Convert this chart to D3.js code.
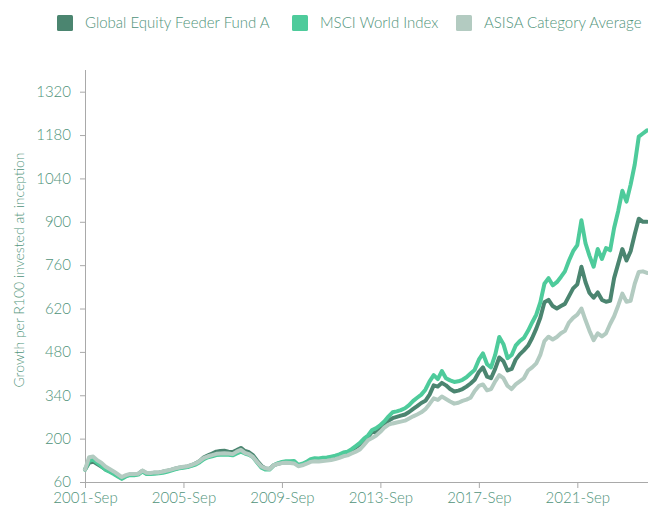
<!DOCTYPE html>
<html>
<head>
<meta charset="utf-8">
<script src="https://cdn.jsdelivr.net/npm/d3@7"></script>
<style>
    body { margin: 0; background: #fff; }
    #chart text { font-family: Lato, "Open Sans", sans-serif; font-weight: 300; fill: #4f937a; }
    .axis path, .axis line { stroke: #a9a9a9; }
</style>
</head>
<body>
<svg id="chart" width="648" height="510"></svg>
<script>
// bi-monthly observations, first one is 2001-Sep
const startMonth = "2001-09";
const stepMonths = 2;

const seriesNames = ["Global Equity Feeder Fund A", "MSCI World Index", "ASISA Category Average"];
const seriesColors = ["#4b8570", "#4ecb9b", "#b3cbc1"];

const fundValues = [
    100, 122,
    126, 118, 110, 101, 95, 88,
    80, 72, 80, 84, 84, 86,
    96, 88, 88, 90, 90, 93,
    96, 99, 103, 106, 108, 110,
    114, 120, 128, 140, 146, 152,
    158, 160, 161, 158, 157, 163,
    170, 160, 156, 146, 128, 112,
    104, 102, 114, 119, 122, 124,
    124, 125, 114, 117, 122, 130,
    132, 131, 133, 134, 137, 140,
    144, 150, 153, 162, 172, 182,
    196, 205, 222, 220, 232, 245,
    258, 266, 270, 274, 278, 286,
    296, 305, 315, 322, 342, 372,
    368, 380, 372, 360, 352, 355,
    360, 368, 378, 390, 415, 430,
    400, 395, 425, 462, 450, 420,
    425, 455, 472, 485, 500, 525,
    555, 590, 640, 648, 628, 620,
    628, 635, 660, 685, 698, 755,
    705, 670, 655, 672, 648, 642,
    645, 718, 765, 812, 775, 805,
    860, 910, 900, 900
];

const msciValues = [
    100, 128,
    132, 122, 112, 100, 93, 86,
    78, 70, 78, 82, 82, 84,
    94, 86, 86, 87, 88, 90,
    93, 97, 101, 104, 106, 108,
    112, 116, 124, 134, 140, 143,
    147, 148, 149, 148, 146, 152,
    158, 152, 148, 140, 122, 106,
    100, 100, 114, 120, 125, 127,
    127, 128, 115, 119, 125, 134,
    137, 136, 138, 139, 142, 145,
    149, 155, 158, 166, 176, 186,
    200, 210, 228, 234, 244, 256,
    272, 285, 288, 292, 298, 308,
    322, 332, 342, 358, 385, 405,
    392, 418, 395, 388, 383, 385,
    390, 398, 410, 422, 455, 475,
    440, 430, 470, 528, 505, 460,
    470, 500, 515, 525, 548, 575,
    600, 640, 700, 718, 695, 705,
    722, 740, 775, 805, 825, 905,
    830, 790, 755, 812, 780, 815,
    808, 880, 935, 1000, 965, 1020,
    1085, 1175, 1185, 1195
];

const asisaValues = [
    100, 140,
    142, 130, 122, 110, 102, 94,
    85, 76, 82, 86, 86, 87,
    97, 90, 89, 91, 91, 94,
    97, 100, 104, 107, 109, 111,
    115, 120, 128, 138, 143, 147,
    151, 152, 153, 152, 150, 158,
    164, 154, 150, 140, 124, 110,
    104, 102, 114, 118, 121, 122,
    121, 120, 111, 114, 119, 125,
    127, 126, 128, 129, 131, 134,
    138, 143, 146, 152, 158, 165,
    180, 195, 202, 210, 222, 236,
    245, 249, 252, 255, 258, 265,
    272, 278, 285, 295, 312, 330,
    325, 336, 328, 320, 313, 316,
    322, 326, 332, 354, 370, 375,
    356, 360, 385, 405, 395, 370,
    360, 375, 385, 395, 420, 430,
    443, 470, 515, 529, 520, 528,
    540, 548, 575, 590, 600, 620,
    582, 548, 518, 540, 530, 540,
    570, 595, 630, 668, 642, 645,
    700, 738, 740, 735
];

const yTicks = [60, 200, 340, 480, 620, 760, 900, 1040, 1180, 1320];
const xTickLabels = ["2001-Sep", "2005-Sep", "2009-Sep", "2013-Sep", "2017-Sep", "2021-Sep"];
const yTitle = "Growth per R100 invested at inception";

const parseMonth = d3.timeParse("%Y-%m");
const parseLabel = d3.timeParse("%Y-%b");
const fmtLabel = d3.timeFormat("%Y-%b");

const start = parseMonth(startMonth);
const dates = fundValues.map((d, i) => d3.timeMonth.offset(start, i * stepMonths));

const data = [fundValues, msciValues, asisaValues].map((vals, k) => ({
    name: seriesNames[k],
    color: seriesColors[k],
    data: vals.map((v, i) => ({ x: dates[i], y: v }))
}));

const padding = { top: 70, right: 1, bottom: 28, left: 85 };
const width = 648, height = 510;
const innerWidth = width - padding.left - padding.right;
const innerHeight = height - padding.top - padding.bottom;

const x = d3.scaleTime().domain(d3.extent(dates)).range([0, innerWidth]);
const y = d3.scaleLinear().domain([60, 1390]).range([innerHeight, 0]);

const svg = d3.select("#chart");
const g = svg.append("g").attr("transform", `translate(${padding.left},${padding.top})`);

// axes
const xAxis = d3.axisBottom(x)
    .tickValues(xTickLabels.map(parseLabel))
    .tickFormat(fmtLabel)
    .tickSize(6)
    .tickPadding(4);

g.append("g")
    .attr("class", "axis x")
    .attr("transform", `translate(0,${innerHeight})`)
    .call(xAxis)
    .call(s => s.select(".domain").attr("d", `M0,0.5H${innerWidth + 1}`))
    .selectAll("text")
    .style("font-size", "15px");

const yAxis = d3.axisLeft(y)
    .tickValues(yTicks)
    .tickFormat(d3.format("d"))
    .tickSize(5)
    .tickPadding(9);

g.append("g")
    .attr("class", "axis y")
    .call(yAxis)
    .call(s => s.select(".domain").attr("d", `M0.5,0V${innerHeight}`))
    .selectAll("text")
    .style("font-size", "15px");

g.append("text")
    .attr("transform", `translate(${-padding.left + 24},${innerHeight / 2 - 6})rotate(-90)`)
    .attr("text-anchor", "middle")
    .style("font-size", "14px")
    .text(yTitle);

// lines
const line = d3.line()
    .x(d => x(d.x))
    .y(d => y(d.y));

g.selectAll(".series")
    .data(data)
    .enter()
    .append("path")
    .attr("class", "series")
    .attr("fill", "none")
    .attr("stroke", d => d.color)
    .attr("stroke-width", 4)
    .attr("stroke-linejoin", "round")
    .attr("stroke-linecap", "round")
    .attr("d", d => line(d.data));

// legend
const legendX = [57, 292, 456];
const legend = svg.append("g").attr("class", "legend");
const items = legend.selectAll("g")
    .data(data)
    .enter()
    .append("g")
    .attr("transform", (d, i) => `translate(${legendX[i]},15)`);

items.append("rect")
    .attr("width", 16)
    .attr("height", 16)
    .attr("rx", 1.5)
    .attr("fill", d => d.color);

items.append("text")
    .attr("x", 28)
    .attr("y", 8)
    .attr("dy", "0.35em")
    .style("font-size", "15px")
    .text(d => d.name);
</script>
</body>
</html>
